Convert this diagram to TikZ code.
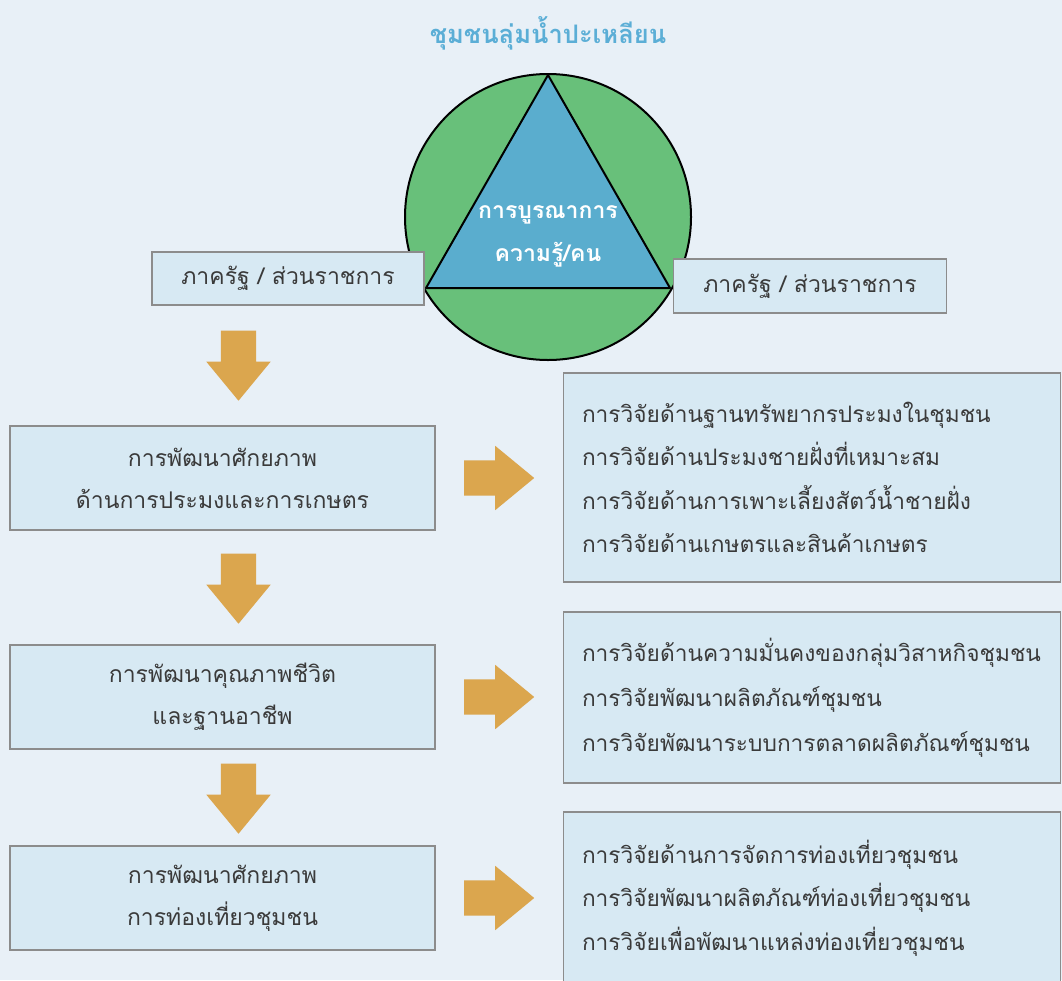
\documentclass[tikz,border=0pt]{standalone}
\usepackage{fontspec}
\usetikzlibrary{shapes.arrows}
\newfontfamily\thaifont[Script=Thai]{Loma}

\definecolor{paleblue}{RGB}{232,240,247}
\definecolor{boxblue}{RGB}{215,233,243}
\definecolor{boxline}{RGB}{140,140,140}
\definecolor{arrowgold}{RGB}{219,166,78}
\definecolor{leafgreen}{RGB}{104,192,122}
\definecolor{waterblue}{RGB}{90,173,206}
\definecolor{titleblue}{RGB}{91,174,214}
\definecolor{inkgray}{RGB}{58,58,58}

\begin{document}
\begin{tikzpicture}[x=1pt, y=-1pt,
	every node/.style={font=\thaifont\fontsize{23}{42}\selectfont, text=inkgray},
	sidebox/.style={draw=boxline, fill=boxblue, line width=1.2pt, align=center, inner sep=0pt},
	topicbox/.style={sidebox, minimum width=425, minimum height=104},
	researchbox/.style={draw=boxline, fill=boxblue, line width=1.2pt, minimum width=497, text width=460, align=left, inner sep=0pt},
	blockarrow/.style={single arrow, fill=arrowgold, draw=none, inner sep=17.5pt, minimum height=70, single arrow head extend=14.5pt, single arrow tip angle=79}]
	\fill[paleblue] (0,0) rectangle (1062,980);
	\useasboundingbox (0,0) rectangle (1062,980);

	\node[font=\thaifont\bfseries\fontsize{25.5}{30}\selectfont, text=titleblue] (title) at (548,33) {ชุมชนลุ่มน้ำปะเหลียน};

	% circle with the triangle
	\node[circle, draw=black, fill=leafgreen, line width=2pt, minimum size=286, inner sep=0pt] (disc) at (548,217) {};
	\coordinate (apex) at (548,75);
	\coordinate (baseL) at (426,288);
	\coordinate (baseR) at (670,288);
	\filldraw[fill=waterblue, draw=black, line width=2pt, line join=round] (apex) -- (baseL) -- (baseR) -- cycle;
	\node[font=\thaifont\bfseries\fontsize{23}{43}\selectfont, text=white, align=center] (core) at (548,236) {การบูรณาการ\\ความรู้/คน};

	\node[sidebox, minimum width=272, minimum height=53] (govL) at (288,278.5) {ภาครัฐ / ส่วนราชการ};
	\node[sidebox, minimum width=273, minimum height=54] (govR) at (810,286) {ภาครัฐ / ส่วนราชการ};

	% left column
	\node[topicbox] (fish) at (222.5,478) {การพัฒนาศักยภาพ\\ด้านการประมงและการเกษตร};
	\node[topicbox] (life) at (222.5,697) {การพัฒนาคุณภาพชีวิต\\และฐานอาชีพ};
	\node[topicbox] (tour) at (222.5,898) {การพัฒนาศักยภาพ\\การท่องเที่ยวชุมชน};

	% right column
	\node[researchbox, minimum height=209, font=\thaifont\fontsize{22.7}{43.5}\selectfont] (resA) at (812,477.5) {การวิจัยด้านฐานทรัพยากรประมงในชุมชน\\การวิจัยด้านประมงชายฝั่งที่เหมาะสม\\การวิจัยด้านการเพาะเลี้ยงสัตว์น้ำชายฝั่ง\\การวิจัยด้านเกษตรและสินค้าเกษตร};
	\node[researchbox, minimum height=171, font=\thaifont\fontsize{22.7}{45}\selectfont] (resB) at (812,697.5) {การวิจัยด้านความมั่นคงของกลุ่มวิสาหกิจชุมชน\\การวิจัยพัฒนาผลิตภัณฑ์ชุมชน\\การวิจัยพัฒนาระบบการตลาดผลิตภัณฑ์ชุมชน};
	\node[researchbox, minimum height=172, font=\thaifont\fontsize{22.7}{43.5}\selectfont] (resC) at (812,898) {การวิจัยด้านการจัดการท่องเที่ยวชุมชน\\การวิจัยพัฒนาผลิตภัณฑ์ท่องเที่ยวชุมชน\\การวิจัยเพื่อพัฒนาแหล่งท่องเที่ยวชุมชน};

	% block arrows
	\node[blockarrow, rotate=-90] (down1) at (238.5,355) {};
	\node[blockarrow, rotate=-90] (down2) at (238.5,578) {};
	\node[blockarrow, rotate=-90] (down3) at (238.5,788) {};
	\node[blockarrow] (right1) at (488.5,478) {};
	\node[blockarrow] (right2) at (488.5,697) {};
	\node[blockarrow] (right3) at (488.5,898) {};
\end{tikzpicture}
\end{document}
